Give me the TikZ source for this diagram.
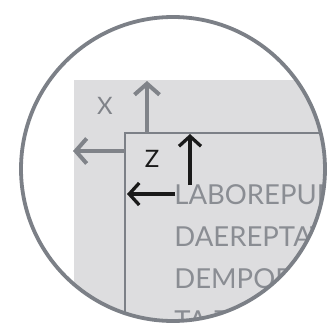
\documentclass[tikz,border=0pt]{standalone}
\usepackage{fontspec}
\setmainfont{Lato}
\usetikzlibrary{arrows.meta}

\definecolor{rimgray}{RGB}{124,128,135}
\definecolor{panelgray}{RGB}{221,221,223}
\definecolor{inkgray}{RGB}{128,131,137}
\definecolor{bodygray}{RGB}{138,141,147}
\definecolor{inkblack}{RGB}{26,26,26}

\tikzset{every picture/.style={line width=0.75pt}}
\tikzset{
  paxis/.style={draw=inkgray, line width=4pt, -{Straight Barb[length=11pt,width=25pt,line width=4pt]}},
  zaxis/.style={draw=inkblack, line width=3.3pt, -{Straight Barb[length=10pt,width=22pt,line width=3.3pt]}},
  axislabel/.style={inner sep=0pt, font=\fontsize{24}{24}\selectfont},
  bodyline/.style={anchor=base west, inner sep=0pt, text=bodygray, font=\fontsize{27.5}{27.5}\selectfont}
}

\begin{document}
\begin{tikzpicture}[x=1pt,y=1pt,yscale=-1]
\useasboundingbox (0,0) rectangle (333,327);

\begin{scope}
\clip (173,169) circle (152);
%outer panel
\fill[panelgray] (74,80) rectangle (340,340);
%inner panel
\draw[rimgray, fill=panelgray, line width=1.8pt] (125,133) rectangle (345,345);

%parent axes
\coordinate (xfoot) at (147,133);
\coordinate (xhead) at (147,81);
\coordinate (yfoot) at (125,151);
\coordinate (yhead) at (73,151);
\draw[paxis] (xfoot) -- (xhead);
\draw[paxis] (yfoot) -- (yhead);

%child axes
\coordinate (zfoot) at (190,185);
\coordinate (zhead) at (190,134);
\coordinate (wfoot) at (175,194);
\coordinate (whead) at (127,194);
\draw[zaxis] (zfoot) -- (zhead);
\draw[zaxis] (wfoot) -- (whead);

% Text Node
\node[axislabel, text=inkgray] (xlabel) at (105,106) {X};
% Text Node
\node[axislabel, text=inkblack] (zlabel) at (152,159) {Z};

% Text Node
\node[bodyline] (line1) at (174,204) {LABOREPUD};
\node[bodyline] (line2) at (174,246) {DAEREPTAT};
\node[bodyline] (line3) at (174,288) {DEMPOR};
\node[bodyline] (line4) at (174,330) {TA TU};
\end{scope}

%lens rim
\draw[rimgray, line width=3.8pt] (173,169) circle (152);

\end{tikzpicture}
\end{document}
